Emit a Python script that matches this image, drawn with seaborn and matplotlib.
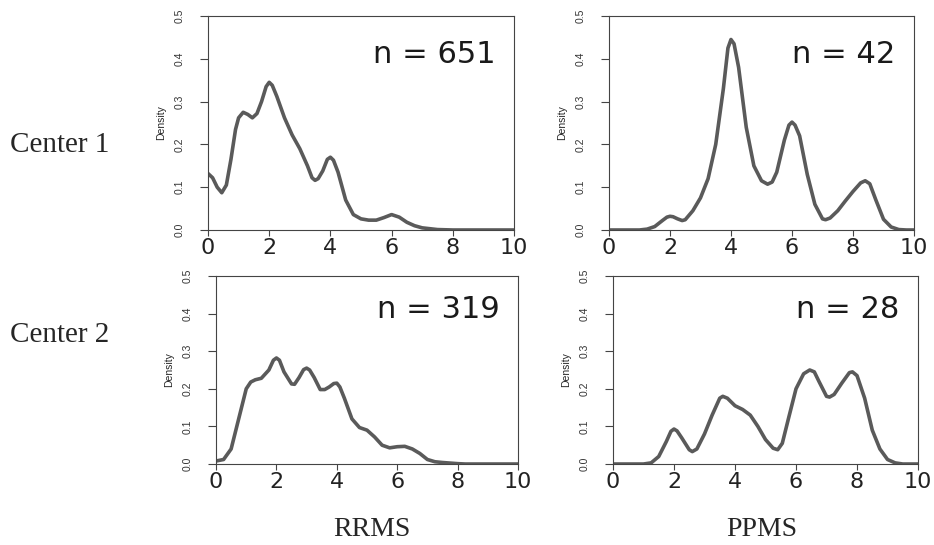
import numpy as np
import pandas as pd
import seaborn as sns
import matplotlib.pyplot as plt

# density curves (EDSS score, density)
rrms_c1_x = [0.0, 0.15, 0.3, 0.45, 0.6, 0.75, 0.9, 1.0, 1.15, 1.3, 1.45, 1.6, 1.75,
             1.9, 2.0, 2.1, 2.25, 2.5, 2.75, 3.0, 3.25, 3.4, 3.5, 3.6, 3.75, 3.9,
             4.0, 4.1, 4.25, 4.5, 4.75, 5.0, 5.25, 5.5, 5.75, 6.0, 6.25, 6.5,
             6.75, 7.0, 7.5, 8.0, 10.0]
rrms_c1_y = [0.132, 0.122, 0.100, 0.087, 0.105, 0.165, 0.235, 0.262, 0.275, 0.270,
             0.262, 0.272, 0.300, 0.335, 0.345, 0.338, 0.312, 0.262, 0.222, 0.190,
             0.150, 0.122, 0.116, 0.120, 0.138, 0.165, 0.170, 0.163, 0.135, 0.070,
             0.036, 0.026, 0.023, 0.023, 0.029, 0.036, 0.030, 0.018, 0.010, 0.005,
             0.001, 0.0, 0.0]

ppms_c1_x = [0.0, 1.0, 1.25, 1.5, 1.75, 1.9, 2.0, 2.1, 2.25, 2.4, 2.5, 2.75, 3.0,
             3.25, 3.5, 3.75, 3.9, 4.0, 4.1, 4.25, 4.5, 4.75, 5.0, 5.2, 5.35, 5.5,
             5.75, 5.9, 6.0, 6.1, 6.25, 6.5, 6.75, 7.0, 7.1, 7.25, 7.5, 7.75, 8.0,
             8.25, 8.4, 8.55, 8.75, 9.0, 9.25, 9.5, 9.75, 10.0]
ppms_c1_y = [0.0, 0.0, 0.002, 0.008, 0.022, 0.030, 0.032, 0.031, 0.026, 0.022,
             0.024, 0.045, 0.075, 0.120, 0.200, 0.330, 0.425, 0.445, 0.435, 0.380,
             0.240, 0.150, 0.115, 0.107, 0.112, 0.135, 0.210, 0.245, 0.252, 0.245,
             0.220, 0.130, 0.060, 0.026, 0.024, 0.028, 0.045, 0.068, 0.090, 0.110,
             0.115, 0.108, 0.070, 0.025, 0.007, 0.001, 0.0, 0.0]

rrms_c2_x = [0.0, 0.25, 0.5, 0.75, 1.0, 1.15, 1.3, 1.5, 1.75, 1.9, 2.0, 2.1, 2.25,
             2.5, 2.6, 2.75, 2.9, 3.0, 3.1, 3.25, 3.45, 3.6, 3.75, 3.9, 4.0, 4.1,
             4.25, 4.5, 4.75, 5.0, 5.25, 5.5, 5.75, 6.0, 6.25, 6.5, 6.75, 7.0,
             7.25, 7.5, 8.0, 8.25, 10.0]
rrms_c2_y = [0.008, 0.012, 0.040, 0.120, 0.200, 0.218, 0.224, 0.228, 0.250, 0.276,
             0.282, 0.276, 0.245, 0.213, 0.212, 0.230, 0.251, 0.255, 0.250, 0.230,
             0.198, 0.198, 0.205, 0.214, 0.215, 0.205, 0.175, 0.120, 0.097, 0.090,
             0.072, 0.050, 0.043, 0.046, 0.047, 0.040, 0.028, 0.012, 0.006, 0.004,
             0.001, 0.0, 0.0]

ppms_c2_x = [0.0, 1.0, 1.25, 1.5, 1.75, 1.9, 2.0, 2.1, 2.25, 2.5, 2.6, 2.75, 3.0,
             3.25, 3.5, 3.6, 3.75, 4.0, 4.25, 4.5, 4.75, 5.0, 5.25, 5.4, 5.55,
             5.75, 6.0, 6.25, 6.45, 6.6, 6.75, 7.0, 7.1, 7.25, 7.5, 7.75, 7.85,
             8.0, 8.25, 8.5, 8.75, 9.0, 9.25, 9.5, 10.0]
ppms_c2_y = [0.0, 0.0, 0.003, 0.020, 0.060, 0.087, 0.093, 0.088, 0.070, 0.038,
             0.033, 0.040, 0.080, 0.130, 0.175, 0.180, 0.175, 0.155, 0.145, 0.130,
             0.100, 0.065, 0.042, 0.038, 0.055, 0.120, 0.200, 0.240, 0.250, 0.245,
             0.220, 0.180, 0.178, 0.185, 0.215, 0.243, 0.245, 0.235, 0.175, 0.090,
             0.040, 0.012, 0.003, 0.0, 0.0]

n_labels = ["n = 651", "n = 42", "n = 319", "n = 28"]
row_labels = ["Center 1", "Center 2"]
col_labels = ["RRMS", "PPMS"]
y_ticks = [0.0, 0.1, 0.2, 0.3, 0.4, 0.5]
x_ticks = [0, 2, 4, 6, 8, 10]

sns.set_style("ticks")
plt.rcParams['font.family'] = ['DejaVu Sans']

fig = plt.figure(figsize=(9.34, 5.45), dpi=100)

# axes boxes in figure fractions (left, bottom, width, height)
boxes = [
    [0.2227, 0.578, 0.3276, 0.3927],
    [0.6520, 0.578, 0.3266, 0.3927],
    [0.2313, 0.1486, 0.3233, 0.345],
    [0.6563, 0.1486, 0.3266, 0.345],
]
series = [(rrms_c1_x, rrms_c1_y), (ppms_c1_x, ppms_c1_y),
          (rrms_c2_x, rrms_c2_y), (ppms_c2_x, ppms_c2_y)]

for box, (xs, ys), lab in zip(boxes, series, n_labels):
    ax = fig.add_axes(box)
    df = pd.DataFrame({"edss": xs, "density": ys})
    sns.lineplot(data=df, x="edss", y="density", ax=ax, color="#5a5a5a",
                 linewidth=2.6, legend=False, sort=False,
                 solid_joinstyle="round", solid_capstyle="round")
    ax.set_xlim(0, 10)
    ax.set_ylim(0, 0.5)
    ax.set_xticks(x_ticks)
    ax.set_xticklabels([str(t) for t in x_ticks], fontsize=16)
    ax.set_yticks(y_ticks)
    ax.set_yticklabels([f"{t:.1f}" for t in y_ticks], rotation=90, va="center",
                       fontsize=7.5, family="Liberation Sans")
    ax.tick_params(axis="x", length=4, width=0.8, pad=1.5, color="#444444",
                   labelcolor="#222222")
    ax.tick_params(axis="y", length=6, width=0.8, pad=11, color="#444444",
                   labelcolor="#333333")
    ax.set_xlabel("")
    ax.set_ylabel("Density", fontsize=7.5, family="Liberation Sans", labelpad=6)
    for sp in ax.spines.values():
        sp.set_visible(True)
        sp.set_color("#444444")
        sp.set_linewidth(0.8)
    ax.text(9.4, 0.41, lab, ha="right", va="center", fontsize=22, color="#1a1a1a")

fig.text(0.011, 1 - 145 / 545, row_labels[0], family="Liberation Serif",
         fontsize=21, ha="left", va="center")
fig.text(0.011, 1 - 335 / 545, row_labels[1], family="Liberation Serif",
         fontsize=21, ha="left", va="center")
fig.text(372 / 934, 1 - 530 / 545, col_labels[0], family="Liberation Serif",
         fontsize=20, ha="center", va="center")
fig.text(762 / 934, 1 - 530 / 545, col_labels[1], family="Liberation Serif",
         fontsize=20, ha="center", va="center")

fig.savefig("out.png", dpi=100)
